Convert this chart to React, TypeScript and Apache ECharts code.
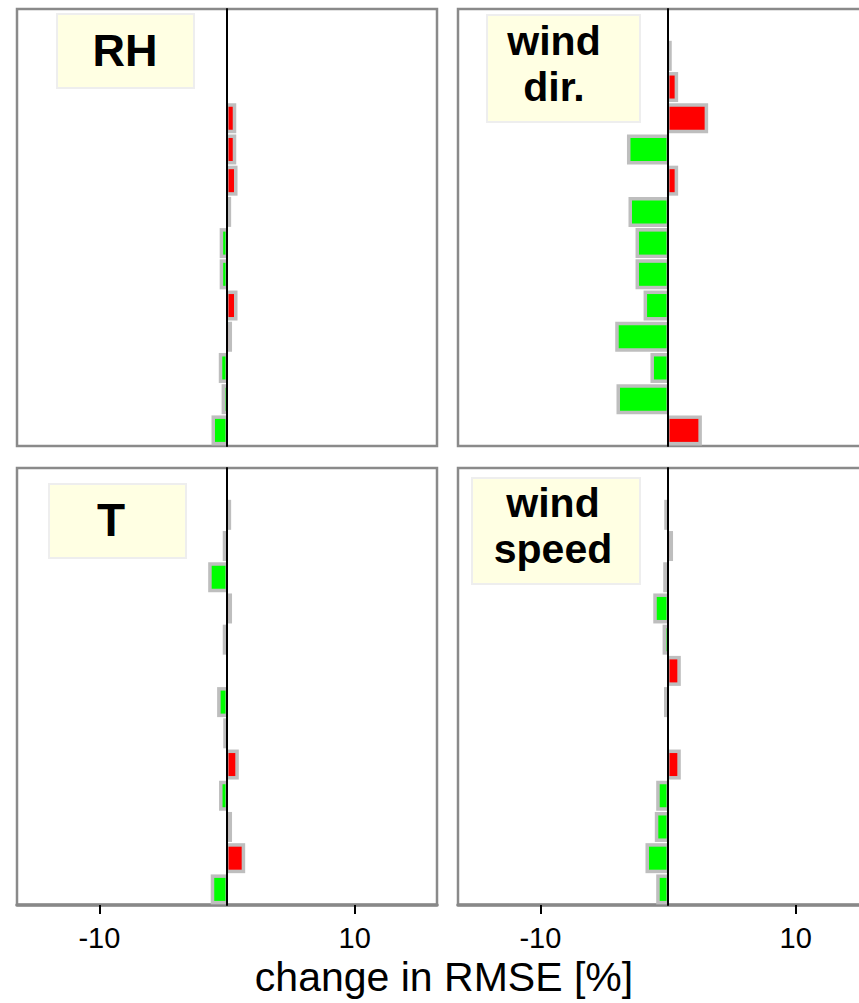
import React, { useEffect, useRef } from "react";
import * as echarts from "echarts";

// rows, top to bottom (14 slots; top slot empty)
const rows = ["1", "2", "3", "4", "5", "6", "7", "8", "9", "10", "11", "12", "13", "14"];

// change in RMSE [%] per row, top to bottom (null = no bar)
const rhValues = [null, null, null, 0.45, 0.45, 0.55, 0.05, -0.3, -0.3, 0.55, 0.12, -0.37, -0.15, -0.94];
const windDirValues = [null, 0.02, 0.52, 2.87, -2.94, 0.52, -2.82, -2.27, -2.27, -1.64, -3.86, -1.1, -3.76, 2.38];
const tValues = [null, 0.05, -0.06, -1.2, 0.12, -0.06, null, -0.5, -0.02, 0.65, -0.35, 0.12, 1.15, -1.0];
const windSpeedValues = [null, -0.02, 0.12, -0.1, -0.88, -0.15, 0.73, -0.04, null, 0.73, -0.65, -0.76, -1.49, -0.65];

const xTicks = [-10, 10];
const xMin = -16.45;
const xMax = 16.45;

const panelNames = ["RH", "wind\ndir.", "T", "wind\nspeed"];
const panelValues = [rhValues, windDirValues, tValues, windSpeedValues];

const axisTitle = "change in RMSE [%]";

const FONT = '"Liberation Sans", Arial, Helvetica, sans-serif';

const CHART_W = 880;

const gridPos = [
  { left: 17, top: 9, width: 420, height: 437 },
  { left: 458, top: 9, width: 420, height: 437 },
  { left: 17, top: 468, width: 420, height: 437 },
  { left: 458, top: 468, width: 420, height: 437 },
];

const labelBoxes = [
  { x: 57, y: 14, w: 137, h: 74, tx: 125, ty: 50, fs: 45, lh: 51 },
  { x: 487, y: 15, w: 153, h: 107, tx: 554, ty: 64, fs: 41, lh: 46 },
  { x: 49, y: 484, w: 137, h: 74, tx: 111, ty: 520, fs: 46, lh: 52 },
  { x: 472, y: 478, w: 168, h: 106, tx: 553, ty: 526, fs: 41, lh: 46 },
];

function renderBar(params: any, api: any) {
  const v = api.value(0);
  const c = api.value(1);
  const z = api.coord([0, c]);
  const e = api.coord([v, c]);
  const s = v >= 0 ? 1 : -1;
  const gx0 = z[0];
  const gx1 = e[0] + s * 3.5;
  const fx0 = z[0] + s * 1.5;
  const fx1 = e[0];
  const fw = s * (fx1 - fx0);
  const children: any[] = [
    {
      type: "rect",
      shape: { x: Math.min(gx0, gx1), y: z[1] - 15, width: Math.abs(gx1 - gx0), height: 30 },
      style: { fill: "#bebebe" },
    },
  ];
  if (fw > 0) {
    children.push({
      type: "rect",
      shape: { x: Math.min(fx0, fx1), y: z[1] - 11.5, width: fw, height: 23 },
      style: { fill: v >= 0 ? "#ff0000" : "#00ff00" },
    });
  }
  return { type: "group", children };
}

export default function App() {
  const ref = useRef<HTMLDivElement>(null);
  useEffect(() => {
    if (!ref.current) return;
    const chart = echarts.init(ref.current, undefined, { renderer: "svg" });
    const grids = gridPos.map((g) => ({
      ...g,
      show: true,
      borderColor: "#8a8a8a",
      borderWidth: 2.5,
      backgroundColor: "#fff",
    }));
    const xAxes = gridPos.map((_, i) => {
      const bottom = i >= 2;
      return {
        type: "value",
        gridIndex: i,
        min: xMin,
        max: xMax,
        splitLine: { show: false },
        axisLine: { show: bottom, lineStyle: { color: "#888", width: 3.5 } },
        axisTick: {
          show: bottom,
          customValues: xTicks,
          length: 9,
          lineStyle: { color: "#000", width: 2 },
        },
        axisLabel: {
          show: bottom,
          customValues: xTicks,
          fontSize: 29,
          fontFamily: FONT,
          color: "#000",
          margin: 18,
        },
      };
    });
    const yAxes = gridPos.map((_, i) => ({
      type: "category",
      gridIndex: i,
      data: rows,
      inverse: true,
      z: 10,
      axisLine: { show: true, onZero: true, lineStyle: { color: "#000", width: 2 } },
      axisTick: { show: false },
      axisLabel: { show: false },
      splitLine: { show: false },
    }));
    const series = panelValues.map((vals, i) => ({
      type: "custom",
      name: panelNames[i],
      xAxisIndex: i,
      yAxisIndex: i,
      encode: { x: 0, y: 1 },
      renderItem: renderBar,
      data: vals
        .map((v, k) => (v === null ? null : [v, k]))
        .filter((d) => d !== null),
    }));
    const graphics: any[] = [];
    labelBoxes.forEach((b, i) => {
      graphics.push({
        type: "rect",
        shape: { x: b.x, y: b.y, width: b.w, height: b.h },
        style: { fill: "#ffffe3", stroke: "#eeeeee", lineWidth: 2 },
        z: 20,
      });
      graphics.push({
        type: "text",
        x: b.tx,
        y: b.ty,
        z: 21,
        style: {
          text: panelNames[i],
          fill: "#000",
          font: `bold ${b.fs}px ${FONT}`,
          lineHeight: b.lh,
          align: "center",
          verticalAlign: "middle",
          textAlign: "center",
          textVerticalAlign: "middle",
        },
      });
    });
    graphics.push({
      type: "text",
      x: 444,
      y: 977,
      z: 21,
      style: {
        text: axisTitle,
        fill: "#000",
        font: `41px ${FONT}`,
        align: "center",
        verticalAlign: "middle",
        textAlign: "center",
        textVerticalAlign: "middle",
      },
    });
    chart.setOption({
      animation: false,
      backgroundColor: "#fff",
      grid: grids,
      xAxis: xAxes,
      yAxis: yAxes,
      series,
      graphic: graphics,
    });
    return () => chart.dispose();
  }, []);
  return (
    <div
      style={{ position: "absolute", left: 0, top: 0, width: 859, height: 1003, overflow: "hidden", background: "#fff" }}
    >
      <div ref={ref} style={{ width: CHART_W, height: 1003 }} />
    </div>
  );
}
